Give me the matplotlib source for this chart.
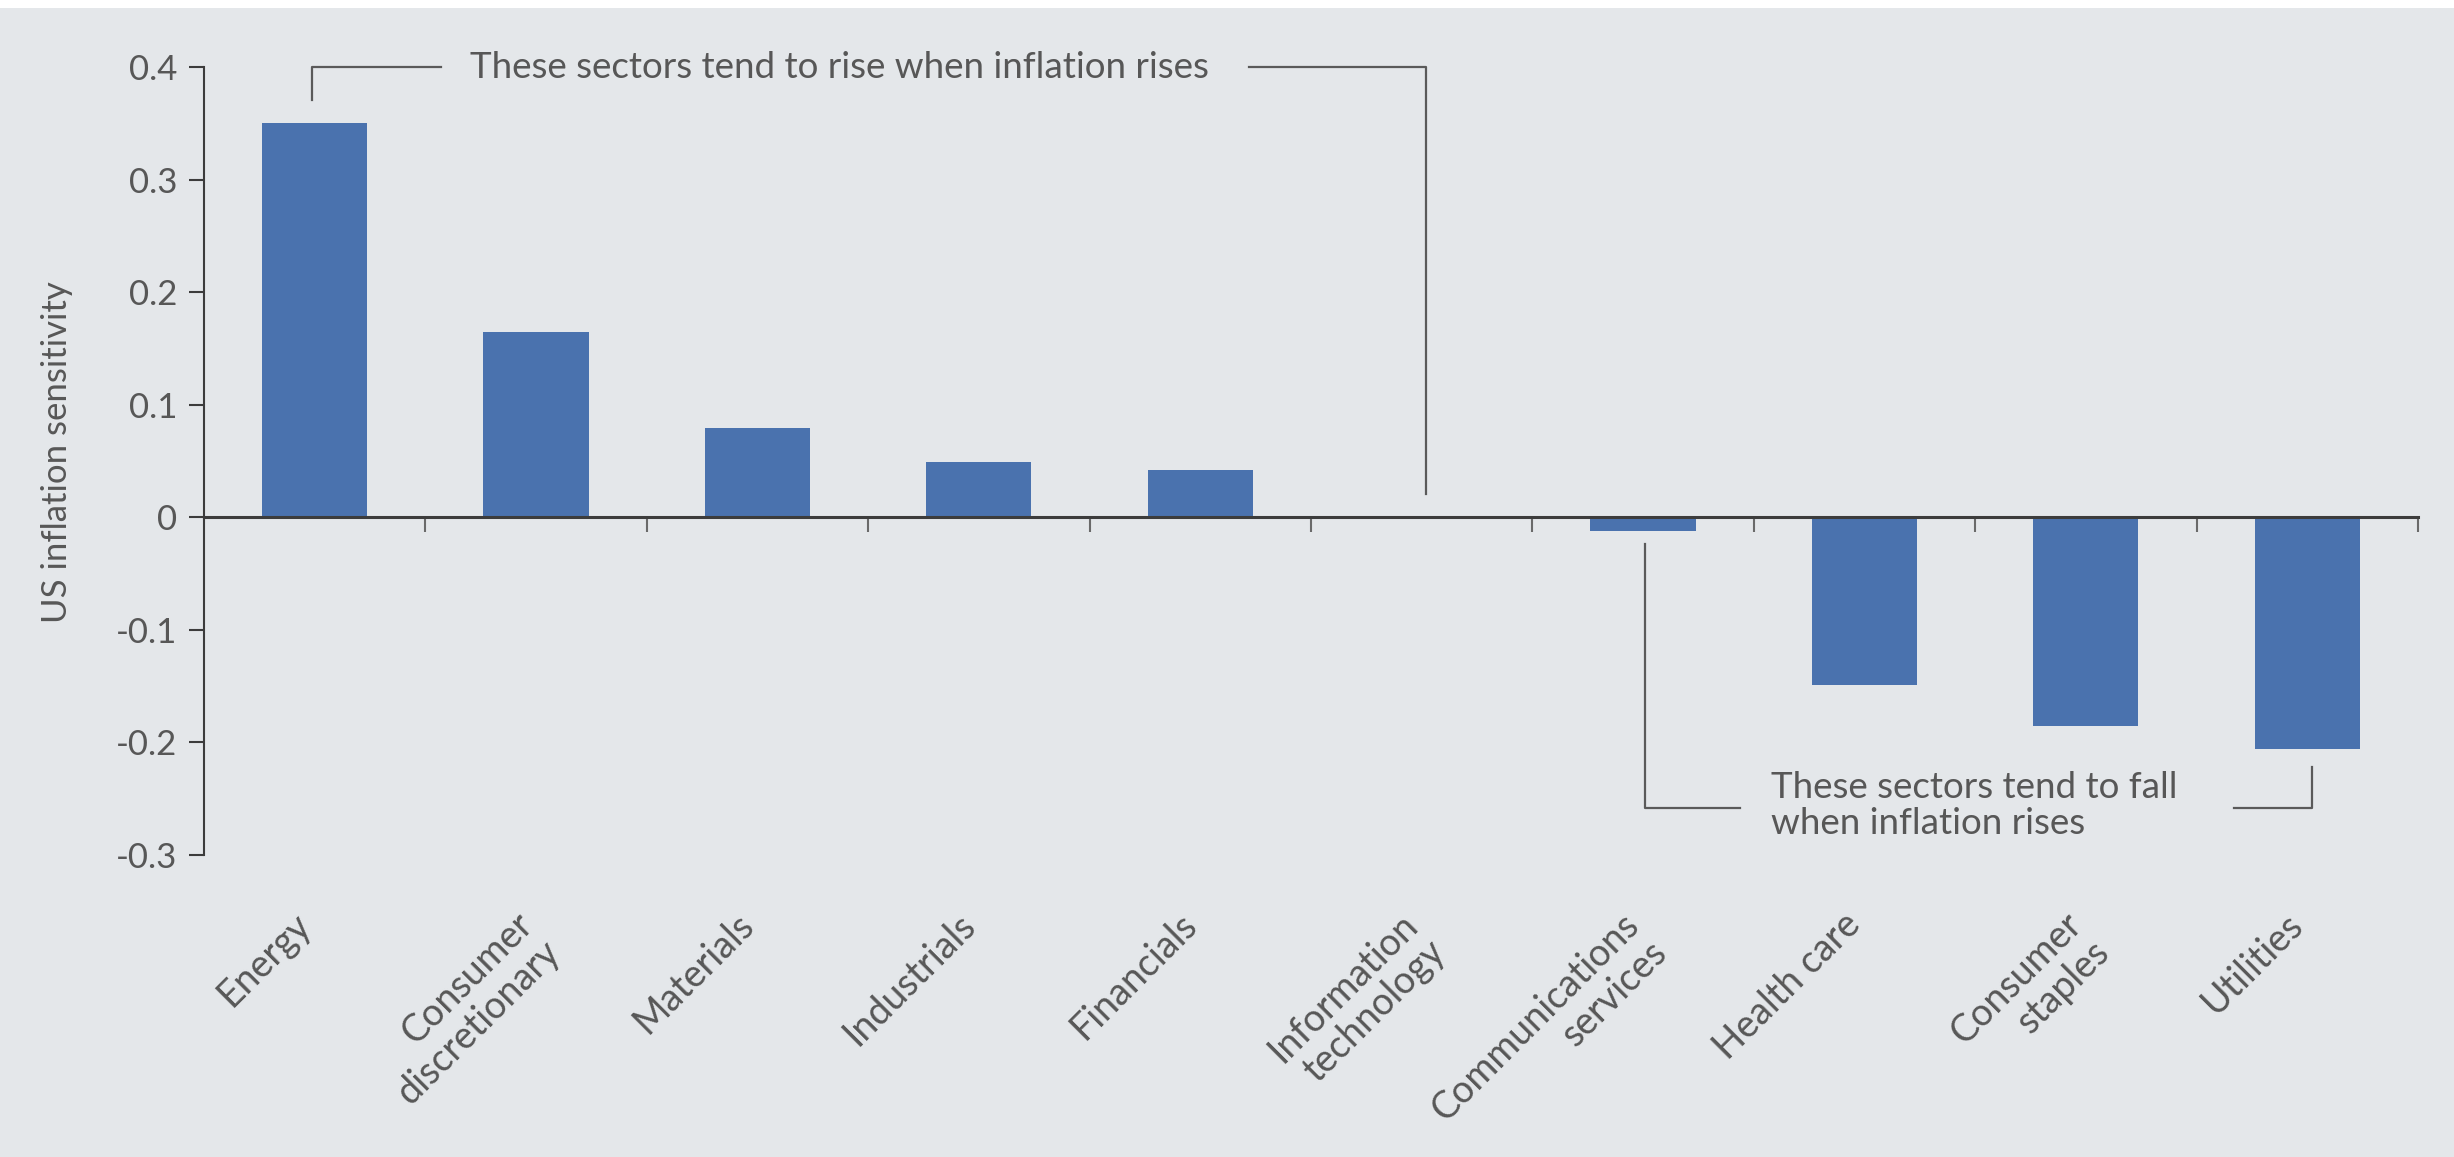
import matplotlib.pyplot as plt
import numpy as np
from matplotlib.patches import Rectangle

sectors = ["Energy", "Consumer\ndiscretionary", "Materials", "Industrials", "Financials",
           "Information\ntechnology", "Communications\nservices", "Health care",
           "Consumer\nstaples", "Utilities"]
sensitivity = [0.35, 0.165, 0.079, 0.049, 0.042, 0.0, -0.012, -0.149, -0.185, -0.206]
y_ticks = [0.4, 0.3, 0.2, 0.1, 0.0, -0.1, -0.2, -0.3]
y_tick_labels = ["0.4", "0.3", "0.2", "0.1", "0", "-0.1", "-0.2", "-0.3"]

bg = "#e4e7ea"
bar_color = "#4a72ae"
text_color = "#575757"
line_color = "#3c3c3c"
note_color = "#5a5a5a"

plt.rcParams["font.family"] = ["Lato", "DejaVu Sans"]

fig = plt.figure(figsize=(24.54, 11.57), dpi=100, facecolor=bg)
# thin white strip along the top edge
fig.add_artist(Rectangle((0, 1 - 8 / 1157), 1, 8 / 1157, transform=fig.transFigure,
                         facecolor="white", edgecolor="none"))

ax = fig.add_axes([0.0831, 0.261, 0.9022, 0.681])
ax.set_facecolor(bg)

x = np.arange(len(sectors))
ax.bar(x, sensitivity, width=0.475, color=bar_color, zorder=2)

ax.set_xlim(-0.5, len(sectors) - 0.5)
ax.set_ylim(-0.3, 0.4)

for s in ["top", "right"]:
    ax.spines[s].set_visible(False)
ax.spines["bottom"].set_position(("data", 0))
ax.spines["bottom"].set_linewidth(2.2)
ax.spines["bottom"].set_color(line_color)
ax.spines["bottom"].set_zorder(3)
ax.spines["left"].set_linewidth(1.5)
ax.spines["left"].set_color(line_color)

ax.set_xticks(np.arange(0.5, len(sectors), 1))
ax.tick_params(axis="x", length=11, width=1.5, color="#6a6a6a", labelbottom=False)
ax.set_yticks(y_ticks)
ax.set_yticklabels(y_tick_labels)
ax.tick_params(axis="y", length=11, width=1.5, color=line_color, pad=8,
               labelsize=25, labelcolor=text_color)

ax.set_ylabel("US inflation sensitivity", fontsize=25, color=text_color)
ax.yaxis.set_label_coords(-0.059, 0.511)

# rotated category labels below the plot
for i, name in enumerate(sectors):
    ax.annotate(name, xy=(i, -0.3), xycoords="data", xytext=(-16, -37),
                textcoords="offset points", rotation=45, ha="right", va="top",
                rotation_mode="anchor", multialignment="right",
                fontsize=27, color=text_color, linespacing=1.1)

# bracket: rising sectors
ax.plot([-0.011, -0.011, 0.57], [0.371, 0.4, 0.4], color=note_color, lw=1.6, clip_on=False)
ax.text(0.70, 0.4, "These sectors tend to rise when inflation rises", va="center",
        ha="left", fontsize=26.5, color=text_color)
ax.plot([4.22, 5.02, 5.02], [0.4, 0.4, 0.021], color=note_color, lw=1.6, clip_on=False)

# bracket: falling sectors
ax.plot([6.01, 6.01, 6.44], [-0.024, -0.258, -0.258], color=note_color, lw=1.6, clip_on=False)
ax.text(6.58, -0.256, "These sectors tend to fall\nwhen inflation rises", va="center",
        ha="left", fontsize=26.5, color=text_color, linespacing=1.12)
ax.plot([8.67, 9.02, 9.02], [-0.258, -0.258, -0.222], color=note_color, lw=1.6, clip_on=False)

fig.savefig("out.png", dpi=100, facecolor=bg)
